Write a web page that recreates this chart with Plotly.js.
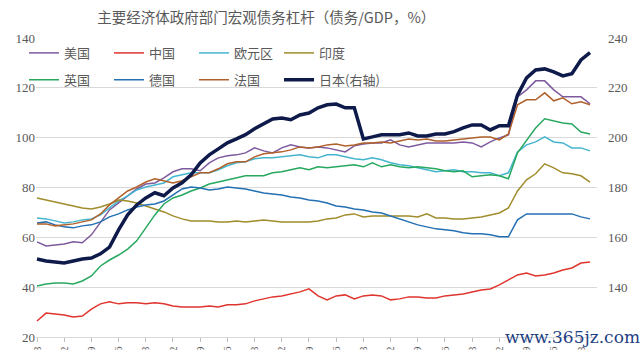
<!DOCTYPE html>
<html>
<head>
<meta charset="utf-8">
<script src="https://cdn.plot.ly/plotly-3.0.1.min.js"></script>
<style>html,body{margin:0;padding:0;background:#fff;}#chart{width:640px;height:350px;}</style>
</head>
<body>
<div id="chart"></div>
<script>
const quarters = ["2007-03","2007-06","2007-09","2007-12","2008-03","2008-06","2008-09","2008-12",
"2009-03","2009-06","2009-09","2009-12","2010-03","2010-06","2010-09","2010-12",
"2011-03","2011-06","2011-09","2011-12","2012-03","2012-06","2012-09","2012-12",
"2013-03","2013-06","2013-09","2013-12","2014-03","2014-06","2014-09","2014-12",
"2015-03","2015-06","2015-09","2015-12","2016-03","2016-06","2016-09","2016-12",
"2017-03","2017-06","2017-09","2017-12","2018-03","2018-06","2018-09","2018-12",
"2019-03","2019-06","2019-09","2019-12","2020-03","2020-06","2020-09","2020-12",
"2021-03","2021-06","2021-09","2021-12","2022-03","2022-06"];

const usa = [58.2,56.5,56.9,57.3,58.2,57.8,61.0,66.2,71.0,73.8,76.6,79.4,81.4,81.8,83.9,86.3,
87.5,87.5,86.7,89.9,91.9,92.7,93.1,93.9,95.9,94.7,93.9,95.9,97.1,96.3,95.9,96.3,
95.9,95.1,94.3,96.7,97.5,97.9,97.9,99.1,97.1,96.3,97.1,97.9,97.9,97.9,97.9,98.3,
97.9,96.3,98.3,99.9,101.1,116.4,119.2,122.8,122.8,119.2,116.4,116.4,116.4,113.6];

const china = [26.4,29.6,29.2,28.8,28.0,28.4,31.2,33.3,34.1,33.3,33.7,33.7,33.3,33.7,33.3,32.4,
32.0,32.0,32.0,32.4,32.0,32.9,32.9,33.3,34.5,35.3,36.1,36.5,37.3,38.1,39.3,36.5,
34.9,36.5,36.9,35.3,36.5,36.9,36.5,34.9,35.3,36.1,36.1,35.7,35.7,36.5,36.9,37.3,
38.1,38.9,39.3,40.9,42.9,44.9,45.7,44.5,44.9,45.7,46.9,47.7,49.7,50.1];

const euroArea = [67.8,67.4,66.6,65.8,66.2,67.0,67.4,69.0,71.8,74.6,76.6,79.0,80.2,81.0,81.8,84.3,
85.1,85.9,85.9,85.9,87.1,88.7,89.9,90.3,91.5,91.9,91.9,92.3,92.7,93.1,92.3,91.9,
93.1,93.1,92.3,91.5,91.1,91.9,91.1,89.9,89.1,88.7,87.9,87.1,86.3,86.7,87.1,86.3,
86.3,85.9,85.9,84.7,85.9,94.3,97.1,98.3,100.3,98.3,97.9,95.9,95.9,94.7];

const india = [75.8,75.0,74.2,73.4,72.6,71.8,71.4,72.2,73.4,75.0,74.6,73.8,72.6,71.4,70.2,68.6,
67.4,66.6,66.6,66.6,66.2,66.2,66.6,66.2,66.6,67.0,66.6,66.2,66.2,66.2,66.2,66.6,
67.4,67.8,69.0,69.4,68.2,68.6,68.6,68.6,68.6,68.6,68.2,69.4,67.8,67.8,67.4,67.4,
67.8,68.2,69.0,69.8,71.8,78.6,83.1,85.5,89.5,87.9,85.9,85.5,84.7,82.2];

const uk = [40.5,41.3,41.7,41.7,41.3,42.5,44.5,48.5,50.9,52.9,55.3,58.6,63.8,69.0,73.4,75.8,
77.0,78.6,79.8,81.4,82.2,83.1,83.9,84.7,84.7,84.7,85.9,86.3,87.1,87.9,87.1,88.3,
87.9,88.3,88.7,89.1,88.3,89.9,88.3,89.1,88.3,87.9,88.3,87.9,87.5,86.7,86.3,86.7,
84.3,84.7,85.1,84.7,83.5,93.9,98.7,103.9,107.6,106.7,105.9,105.5,102.3,101.5];

const germany = [65.8,66.2,65.0,64.2,63.8,64.6,65.0,66.2,68.2,69.4,71.0,72.2,73.0,73.4,74.6,77.0,
79.4,80.2,79.8,79.0,79.4,80.2,79.8,79.4,78.6,77.8,77.4,77.0,76.2,75.8,75.0,74.6,
73.8,72.6,72.2,71.4,71.0,70.2,69.8,68.6,67.4,66.2,65.0,64.2,63.4,63.0,62.6,61.8,
61.4,61.4,61.0,60.2,60.2,67.0,69.4,69.4,69.4,69.4,69.4,69.4,68.2,67.4];

const france = [65.4,65.4,64.6,65.0,65.4,66.2,67.0,69.4,73.0,75.8,78.6,80.2,82.2,83.5,82.7,81.8,
82.7,84.3,85.9,85.9,87.5,89.5,90.3,90.3,92.3,93.5,93.9,94.3,95.1,96.3,95.9,96.3,
97.1,97.5,96.7,97.1,97.9,97.9,98.3,97.9,98.7,99.5,99.1,99.5,98.7,98.7,99.1,99.5,
99.9,100.3,100.3,99.1,101.5,113.2,115.2,115.2,118.0,114.8,116.0,113.6,114.4,113.2];

const japan = [151.3,150.5,150.1,149.7,150.5,151.3,151.7,153.4,156.1,163.0,169.0,173.0,175.8,177.9,176.7,179.8,
181.9,185.1,189.9,193.1,195.5,197.9,199.5,201.2,203.6,205.5,207.5,207.9,207.2,209.1,209.9,212.0,
213.2,213.5,212.0,212.0,199.5,200.3,201.2,201.2,201.2,201.9,200.7,200.7,201.5,201.5,202.4,203.9,
205.1,205.1,203.1,204.8,204.8,217.1,224.0,227.2,227.6,226.4,224.8,225.7,231.2,234.1];

const leftTicks = [20,40,60,80,100,120,140];
const rightTicks = [140,160,180,200,220,240];

const names = ["美国","中国","欧元区","印度","英国","德国","法国","日本(右轴)"];
const series = [usa, china, euroArea, india, uk, germany, france, japan];
const colors = ["#7D5A9E","#E0352E","#45B5CF","#A08C2C","#27A85F","#2470B3","#B0602A","#0E1A4A"];
const widths = [1.5,1.5,1.5,1.5,1.5,1.5,1.5,3.5];

const FONT = '"Noto Sans CJK SC", "Noto Sans", sans-serif';
const legendIds = ['legend','legend2','legend3','legend4','legend5','legend6','legend7','legend8'];
const legendX = [-0.0214, 0.1301, 0.2816, 0.4332];
const legendY = [0.95, 0.86];

const traces = series.map((s, k) => ({
  x: quarters, y: s, name: names[k], type: 'scatter', mode: 'lines',
  line: {color: colors[k], width: widths[k]},
  yaxis: k === 7 ? 'y2' : 'y',
  legend: legendIds[k]
}));

const tickFont = {family: '"Liberation Serif", serif', size: 13, color: '#595959'};

const layout = {
  width: 640, height: 350,
  margin: {l: 36, r: 43, t: 38, b: 13},
  paper_bgcolor: '#ffffff', plot_bgcolor: '#ffffff',
  showlegend: true,
  title: {text: '主要经济体政府部门宏观债务杠杆（债务/GDP，%）', x: 0.416, xanchor: 'center', y: 0.948, yanchor: 'middle',
          font: {family: FONT, size: 14.5, color: '#595959'}},
  xaxis: {
    type: 'category', range: [-0.11, 61.77], automargin: false,
    tickmode: 'linear', tick0: 0, dtick: 3,
    tickangle: -90, ticks: 'outside', ticklen: 4, tickcolor: '#bfbfbf',
    showline: true, linecolor: '#d9d9d9', linewidth: 1,
    showgrid: false, zeroline: false,
    tickfont: {family: '"Liberation Serif", serif', size: 11, color: '#595959'}
  },
  yaxis: {
    range: [20, 140], tickmode: 'array', tickvals: leftTicks, automargin: false,
    showgrid: true, gridcolor: '#d9d9d9', gridwidth: 1, zeroline: false,
    showline: false, ticks: '', tickfont: tickFont
  },
  yaxis2: {
    range: [120, 240], tickmode: 'array', tickvals: rightTicks, overlaying: 'y', side: 'right', automargin: false,
    showgrid: false, zeroline: false, showline: false, ticks: '', ticklabelstandoff: 10,
    tickfont: tickFont
  },
  annotations: [{
    text: 'www.365jz.com', xref: 'paper', yref: 'paper', x: 1.08, y: 0.0,
    xanchor: 'right', yanchor: 'middle', showarrow: false,
    font: {family: '"DejaVu Serif", serif', size: 17, color: '#1F3F84'}
  }]
};

legendIds.forEach((id, k) => {
  layout[id] = {
    orientation: 'h', x: legendX[k % 4], y: legendY[Math.floor(k / 4)],
    xanchor: 'left', yanchor: 'middle',
    font: {family: FONT, size: 13, color: '#595959'},
    bgcolor: 'rgba(0,0,0,0)', borderwidth: 0
  };
});

Plotly.newPlot('chart', traces, layout, {staticPlot: true, displayModeBar: false});
</script>
</body>
</html>
